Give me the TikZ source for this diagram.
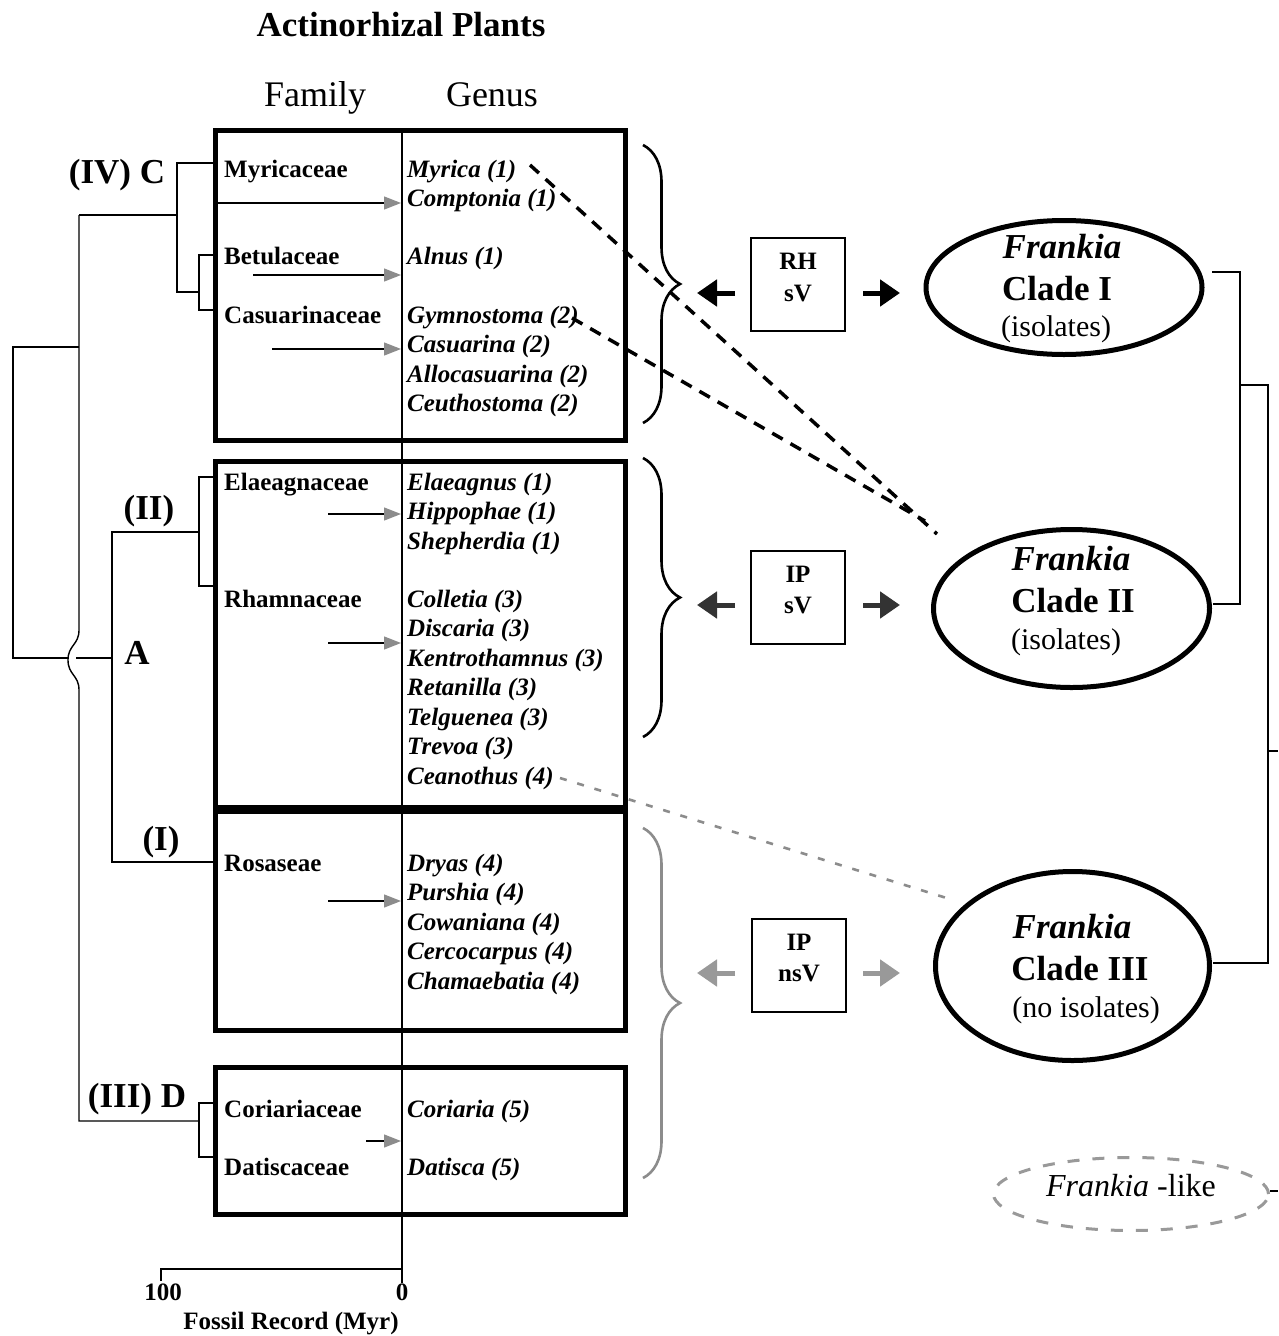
\documentclass[tikz,border=0pt]{standalone}
\usepackage{fontspec}
\setmainfont{Liberation Serif}
\usetikzlibrary{arrows.meta,decorations.pathreplacing,shapes.geometric}
\begin{document}
\begin{tikzpicture}[x=1pt,y=-1pt,
 tree/.style={line width=1.4pt,line join=miter},
 plantbox/.style={draw,line width=5pt,inner sep=0pt,outer sep=0pt,minimum width=410pt},
 fam/.style={anchor=base west,inner sep=0pt,font=\fontsize{25}{29}\selectfont\bfseries},
 gen/.style={anchor=base west,inner sep=0pt,font=\fontsize{25}{29}\selectfont\bfseries\itshape},
 grp/.style={anchor=base,inner sep=0pt,font=\fontsize{35}{40}\selectfont\bfseries},
 head/.style={anchor=base,inner sep=0pt,font=\fontsize{36}{40}\selectfont},
 smallarr/.style={line width=1.3pt,-{Triangle[length=17pt,width=13pt,color=black!45]}},
 brc/.style={decorate,decoration={brace,amplitude=37pt},line width=2.6pt},
 modebox/.style={draw,line width=1.6pt,minimum width=94pt,minimum height=93pt,inner sep=0pt},
 modetxt/.style={anchor=base,inner sep=0pt,font=\fontsize{25}{29}\selectfont\bfseries},
 dbl/.style={line width=5pt,-{Triangle[length=20pt,width=26pt]}},
 clade/.style={ellipse,draw,line width=5pt,inner sep=0pt},
 cf/.style={anchor=base,inner sep=0pt,font=\fontsize{35}{40}\selectfont\bfseries\itshape},
 cn/.style={anchor=base,inner sep=0pt,font=\fontsize{35}{40}\selectfont\bfseries},
 ci/.style={anchor=base,inner sep=0pt,font=\fontsize{30}{34}\selectfont},
 bdash/.style={line width=3.5pt,dash pattern=on 12pt off 9pt},
 gdash/.style={line width=2.6pt,dash pattern=on 7pt off 11pt,draw=black!45},
 ax/.style={anchor=base,inner sep=0pt,font=\fontsize{25}{29}\selectfont\bfseries}
]
\useasboundingbox[fill=white] (0,0) rectangle (1278,1336);

% headings
\node[anchor=base,inner sep=0pt,font=\fontsize{35}{40}\selectfont\bfseries] (title) at (401,36) {Actinorhizal Plants};
\node[head] (hfam) at (315,106) {Family};
\node[head] (hgen) at (492,106) {Genus};

% plant boxes
\node[plantbox,minimum height=310pt] (b1) at (420,285) {};
\node[plantbox,minimum height=346pt] (b2) at (420,634) {};
\node[plantbox,minimum height=219pt] (b3) at (420,920.5) {};
\node[plantbox,minimum height=147pt] (b4) at (420,1141) {};

% divider and axis
\coordinate (dtop) at (402,130);
\coordinate (dbot) at (402,1283);
\draw[tree] (dtop) -- (dbot);
\draw[tree,line width=2pt] (161,1281) -- (161,1269) -- (402,1269);
\node[ax] (t100) at (163,1300) {100};
\node[ax] (t0) at (402,1300) {0};
\node[ax] (axl) at (291,1329) {Fossil Record (Myr)};

% left tree
\draw[tree] (213,163) -- (177,163) -- (177,292) -- (199,292);
\draw[tree] (79,215) -- (177,215);
\draw[tree] (213,255) -- (199,255) -- (199,310) -- (213,310);
\draw[tree] (79,347) -- (13,347) -- (13,658) -- (68,658);
\draw[tree] (76,658) -- (112,658);
\draw[tree] (79,215) -- (79,630) .. controls (79,645) and (68,645) .. (68,660) .. controls (68,675) and (79,675) .. (79,690) -- (79,1121) -- (199,1121);
\draw[tree] (213,1103) -- (199,1103) -- (199,1157) -- (213,1157);
\draw[tree] (199,532) -- (112,532) -- (112,862) -- (213,862);
\draw[tree] (213,477) -- (199,477) -- (199,586) -- (213,586);

\node[grp] (lC) at (117,183) {(IV) C};
\node[grp] (lII) at (149,519) {(II)};
\node[grp] (lA) at (137,664) {A};
\node[grp] (lI) at (161,850) {(I)};
\node[grp] (lD) at (137,1107) {(III) D};

% families
\node[fam] (f1) at (224,177) {Myricaceae};
\node[fam] (f2) at (224,264) {Betulaceae};
\node[fam] (f3) at (224,323) {Casuarinaceae};
\node[fam] (f4) at (224,490) {Elaeagnaceae};
\node[fam] (f5) at (224,607) {Rhamnaceae};
\node[fam] (f6) at (224,871) {Rosaseae};
\node[fam] (f7) at (224,1117) {Coriariaceae};
\node[fam] (f8) at (224,1175) {Datiscaceae};

% genera
\node[gen] (g1) at (407,177) {Myrica (1)};
\node[gen] (g2) at (407,206) {Comptonia (1)};
\node[gen] (g3) at (407,264) {Alnus (1)};
\node[gen] (g4) at (407,323) {Gymnostoma (2)};
\node[gen] (g5) at (407,352) {Casuarina (2)};
\node[gen] (g6) at (407,382) {Allocasuarina (2)};
\node[gen] (g7) at (407,411) {Ceuthostoma (2)};
\node[gen] (g8) at (407,490) {Elaeagnus (1)};
\node[gen] (g9) at (407,519) {Hippophae (1)};
\node[gen] (g10) at (407,549) {Shepherdia (1)};
\node[gen] (g11) at (407,607) {Colletia (3)};
\node[gen] (g12) at (407,636) {Discaria (3)};
\node[gen] (g13) at (407,666) {Kentrothamnus (3)};
\node[gen] (g14) at (407,695) {Retanilla (3)};
\node[gen] (g15) at (407,725) {Telguenea (3)};
\node[gen] (g16) at (407,754) {Trevoa (3)};
\node[gen] (g17) at (407,784) {Ceanothus (4)};
\node[gen] (g18) at (407,871) {Dryas (4)};
\node[gen] (g19) at (407,900) {Purshia (4)};
\node[gen] (g20) at (407,930) {Cowaniana (4)};
\node[gen] (g21) at (407,959) {Cercocarpus (4)};
\node[gen] (g22) at (407,989) {Chamaebatia (4)};
\node[gen] (g23) at (407,1117) {Coriaria (5)};
\node[gen] (g24) at (407,1175) {Datisca (5)};

% fossil-record arrows
\draw[smallarr] (213,203) -- (401,203);
\draw[smallarr] (253,275) -- (401,275);
\draw[smallarr] (272,349) -- (401,349);
\draw[smallarr] (328,514) -- (401,514);
\draw[smallarr] (328,643) -- (401,643);
\draw[smallarr] (328,901) -- (401,901);
\draw[smallarr] (366,1141) -- (401,1141);

% braces
\draw[brc] (643,145) -- (643,423);
\draw[brc] (643,458) -- (643,737);
\draw[brc,draw=black!45] (643,828) -- (643,1178);

% mode boxes
\node[modebox] (m1) at (798,284.5) {};
\node[modetxt] (m1a) at (798,269.5) {RH};
\node[modetxt] (m1b) at (798,301) {sV};
\node[modebox] (m2) at (798,597.5) {};
\node[modetxt] (m2a) at (798,582) {IP};
\node[modetxt] (m2b) at (798,613) {sV};
\node[modebox] (m3) at (799,965.5) {};
\node[modetxt] (m3a) at (799,950) {IP};
\node[modetxt] (m3b) at (799,981) {nsV};

% double arrows
\draw[dbl] (735,293) -- (697,293);
\draw[dbl] (863,293) -- (900,293);
\draw[dbl,draw=black!80] (735,605) -- (697,605);
\draw[dbl,draw=black!80] (863,605) -- (900,605);
\draw[dbl,draw=black!40] (735,973) -- (697,973);
\draw[dbl,draw=black!40] (863,973) -- (900,973);

% Frankia clades
\node[clade,minimum width=276pt,minimum height=134pt] (c1) at (1064,287.5) {};
\node[cf] (c1a) at (1062,258) {Frankia};
\node[cn] (c1b) at (1057,300) {Clade I};
\node[ci] (c1c) at (1056,336) {(isolates)};
\node[clade,minimum width=276pt,minimum height=158pt] (c2) at (1071.5,608.5) {};
\node[cf] (c2a) at (1071,570) {Frankia};
\node[cn] (c2b) at (1073,612) {Clade II};
\node[ci] (c2c) at (1066,649) {(isolates)};
\node[clade,minimum width=274pt,minimum height=189pt] (c3) at (1072.5,966) {};
\node[cf] (c3a) at (1072,938) {Frankia};
\node[cn] (c3b) at (1080,980) {Clade III};
\node[ci] (c3c) at (1086,1017) {(no isolates)};

% Frankia-like
\node[ellipse,draw=black!40,line width=3pt,dash pattern=on 12pt off 13pt,minimum width=275pt,minimum height=73pt,inner sep=0pt] (fl) at (1131,1194) {};
\node[anchor=base,inner sep=0pt,font=\fontsize{32}{36}\selectfont] (flt) at (1131,1196) {\textit{Frankia} -like};
\coordinate (flout) at (1278,1191);
\draw[tree] (1270,1191) -- (flout);

% right tree
\draw[tree] (1212,272) -- (1240,272) -- (1240,604) -- (1213,604);
\draw[tree] (1240,385) -- (1268,385) -- (1268,963) -- (1213,963);
\draw[tree] (1268,751) -- (1278,751);

% dashed links
\draw[bdash] (530,165) -- (937,534);
\draw[bdash] (572,318) -- (925,521);
\draw[gdash] (560,778) -- (953,900);
\end{tikzpicture}
\end{document}
